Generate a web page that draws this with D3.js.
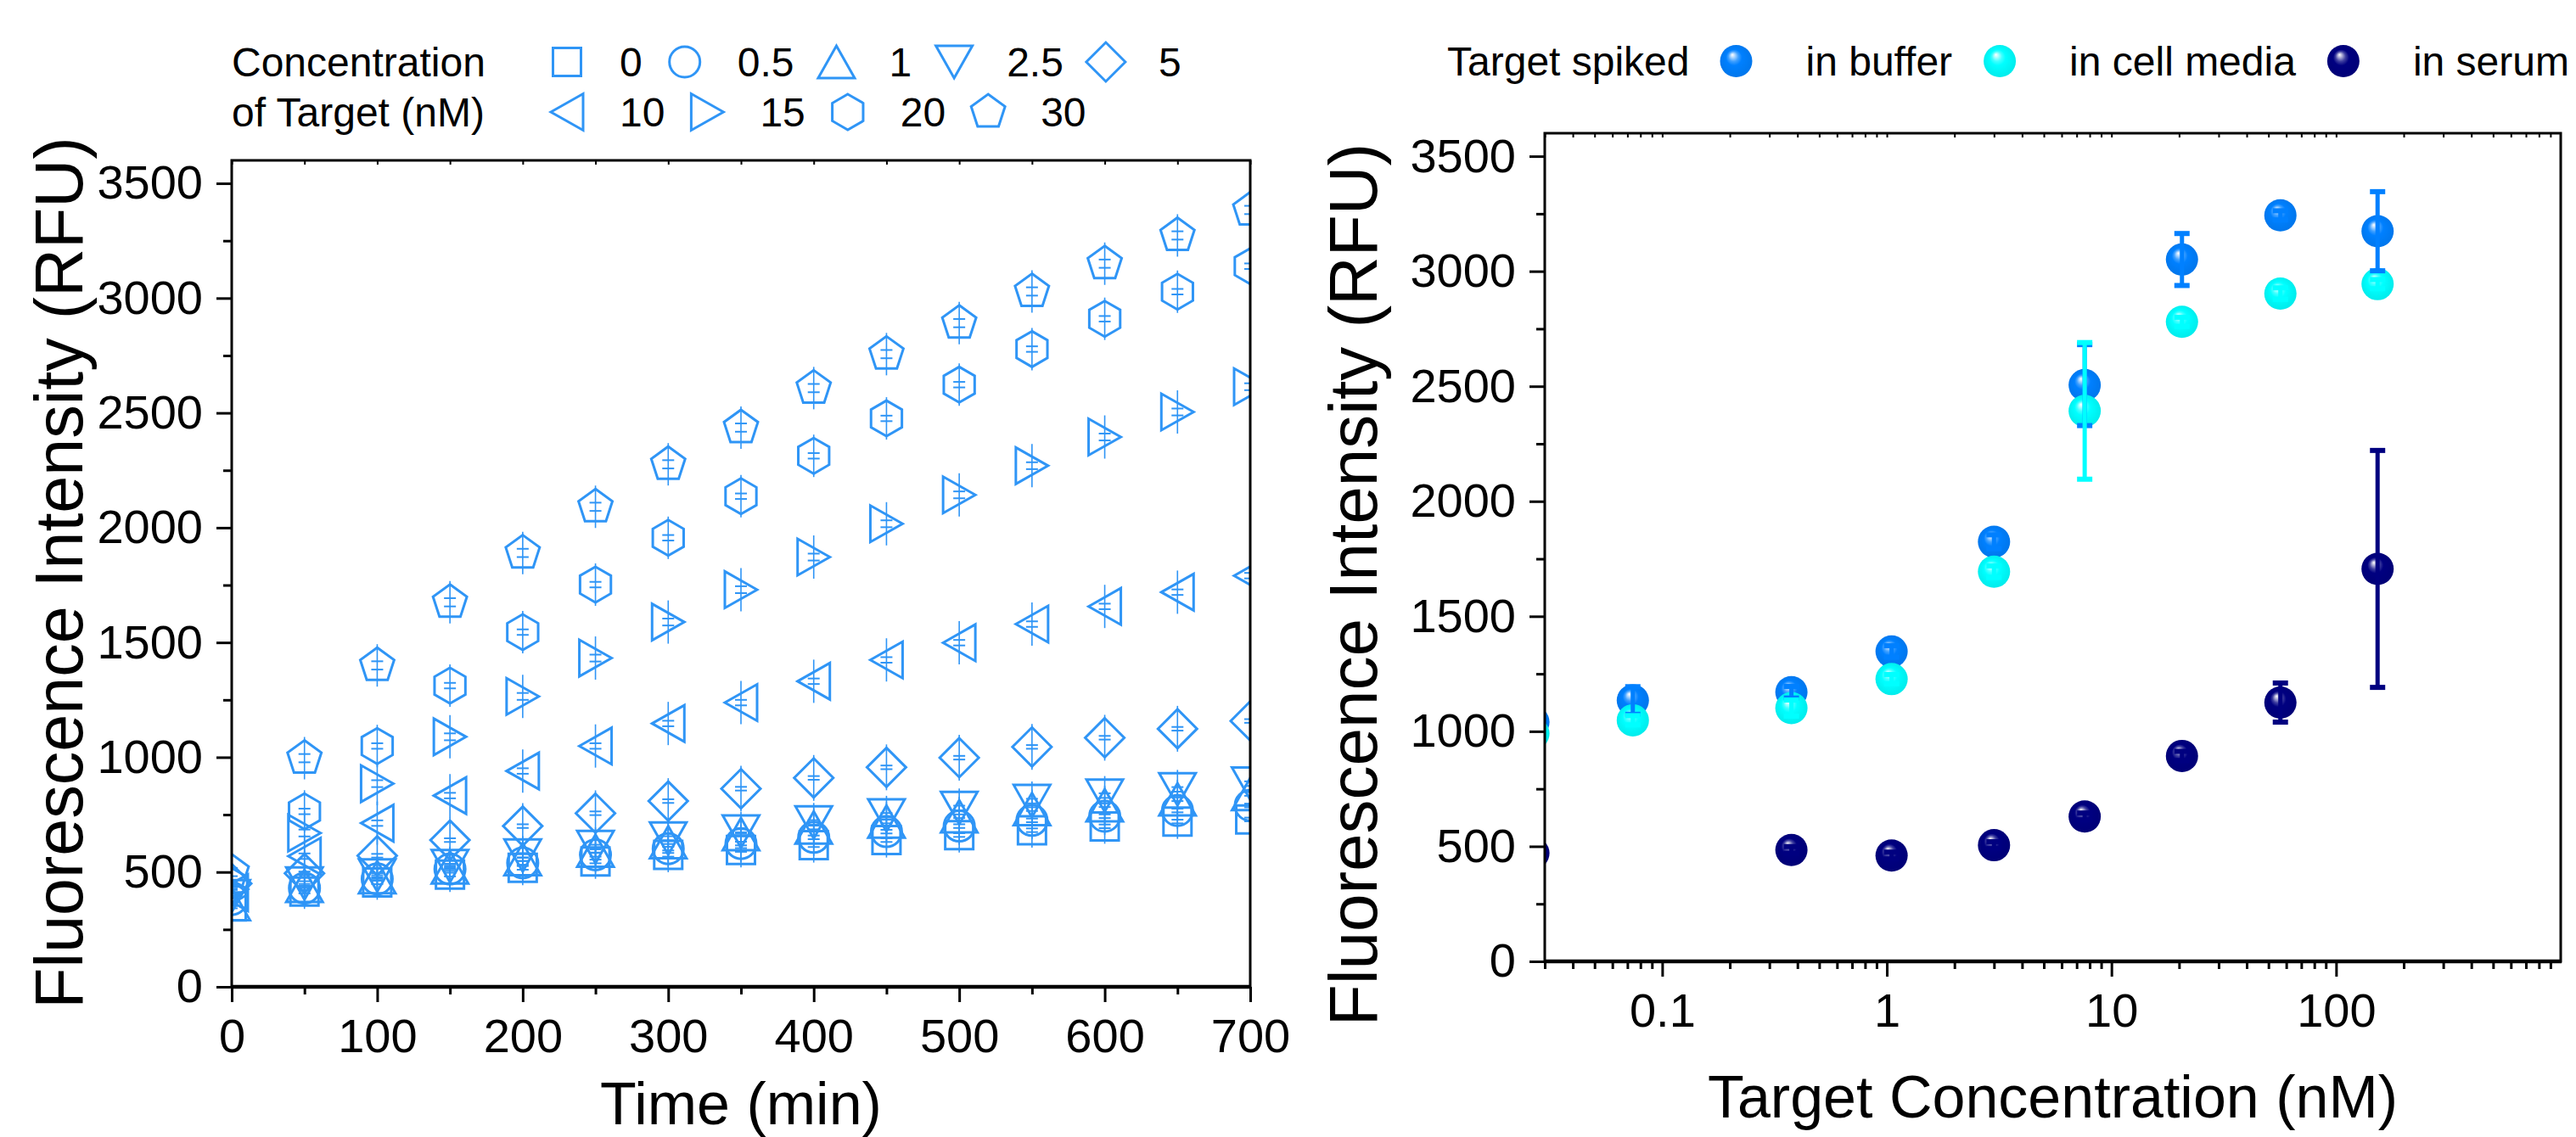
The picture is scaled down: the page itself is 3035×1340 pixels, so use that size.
<!DOCTYPE html>
<html><head><meta charset="utf-8">
<script src="https://cdn.jsdelivr.net/npm/d3@7"></script>
<style>body{margin:0;background:#fff}</style>
</head><body>
<svg id="c" width="3035" height="1340"></svg>
<script>
// ---------------- DATA ----------------
const times = [0,50,100,150,200,250,300,350,400,450,500,550,600,650,700];
const concLabels = ["0","0.5","1","2.5","5","10","15","20","30"];
const symbolTypes = ["square","circle","triUp","triDown","diamond","triLeft","triRight","hexagon","pentagon"];
const conc0   = [350,415,455,489,518,546,575,596,617,639,661,682,699,720,729];
const conc0_5 = [380,430,470,513,540,575,602,624,651,676,700,725,743,768,790];
const conc1   = [360,440,478,520,556,593,630,665,694,720,743,774,791,817,840];
const conc2_5 = [395,450,485,526,572,609,646,676,716,747,779,809,833,860,885];
const conc5   = [450,494,571,639,700,756,809,863,910,956,998,1045,1085,1124,1158];
const conc10  = [410,569,713,833,940,1049,1147,1238,1331,1424,1499,1580,1657,1719,1791];
const conc15  = [425,670,885,1089,1265,1432,1589,1730,1872,2017,2143,2270,2395,2504,2614];
const conc20  = [440,764,1049,1312,1545,1752,1956,2137,2313,2476,2623,2778,2910,3028,3139];
const conc30  = [500,996,1400,1675,1890,2091,2276,2436,2608,2756,2891,3029,3150,3273,3384];
const kineticSeries = [conc0,conc0_5,conc1,conc2_5,conc5,conc10,conc15,conc20,conc30];
const kineticSD = [8,8,8,10,8,12,15,12,18];

const timeTicks = [0,100,200,300,400,500,600,700];
const timeMinor = [50,150,250,350,450,550,650];
const rfuTicks = [0,500,1000,1500,2000,2500,3000,3500];
const rfuMinor = [250,750,1250,1750,2250,2750,3250];

const spikeConc = [0.0267,0.074,0.376,1.05,3.0,7.6,20.6,56.5,153];
const bufferMean = [1040,1134,1170,1347,1824,2505,3051,3243,3174];
const bufferErr  = [20,60,25,25,30,176,113,20,172];
const cellMean   = [990,1048,1101,1227,1694,2393,2780,2903,2944];
const cellErr    = [20,20,35,20,25,297,20,25,20];
const serumMean  = [470,null,484,460,505,630,893,1125,1706];
const serumErr   = [20,null,15,15,15,15,20,85,515];
const concTicks = [0.1,1,10,100];
const concTickLabels = ["0.1","1","10","100"];
const spikeLabels = ["in buffer","in cell media","in serum"];
const spikeColors = ["#0080ff","#00ffff","#000080"];

// ---------------- SETUP ----------------
const FONT = "'Liberation Sans', Arial, Helvetica, sans-serif";
const svg = d3.select("#c");
const symColor = "#2f95f6";
const L = {x0:273, x1:1473, y0:1163, y1:189};
const R = {x0:1820, x1:3017, y0:1133, y1:157};
const xL = d3.scaleLinear([0,700],[L.x0,L.x1]);
const yL = d3.scaleLinear([0,3600],[L.y0,L.y1]);
const xR = d3.scaleLog([0.03,1000],[R.x0,R.x1]);
const yR = d3.scaleLinear([0,3600],[R.y0,R.y1]);

const defs = svg.append("defs");
defs.append("clipPath").attr("id","clipL").append("rect")
  .attr("x",L.x0).attr("y",L.y1).attr("width",L.x1-L.x0).attr("height",L.y0-L.y1);
defs.append("clipPath").attr("id","clipR").append("rect")
  .attr("x",R.x0).attr("y",R.y1).attr("width",R.x1-R.x0).attr("height",R.y0-R.y1);
spikeColors.forEach((c,i)=>{
  const g = defs.append("radialGradient").attr("id","ball"+i)
    .attr("cx","50%").attr("cy","50%").attr("r","55%").attr("fx","38%").attr("fy","30%");
  g.append("stop").attr("offset","0%").attr("stop-color","#ffffff");
  g.append("stop").attr("offset","10%").attr("stop-color",d3.interpolateRgb(c,"#ffffff")(0.75));
  g.append("stop").attr("offset","28%").attr("stop-color",d3.interpolateRgb(c,"#ffffff")(0.25));
  g.append("stop").attr("offset","45%").attr("stop-color",c);
  g.append("stop").attr("offset","100%").attr("stop-color",d3.color(c).darker(0.25).formatHex());
});

function shape(t){
  switch(t){
    case "square": {const s=16.5; return `M${-s},${-s}H${s}V${s}H${-s}Z`;}
    case "circle": {const r=18; return `M${r},0A${r},${r} 0 1,1 ${-r},0A${r},${r} 0 1,1 ${r},0Z`;}
    case "triUp": return "M0,-19L21.5,19L-21.5,19Z";
    case "triDown": return "M0,19L21.5,-19L-21.5,-19Z";
    case "diamond": return "M0,-23L23,0L0,23L-23,0Z";
    case "triLeft": return "M-19,0L19,-21.5L19,21.5Z";
    case "triRight": return "M19,0L-19,-21.5L-19,21.5Z";
    case "hexagon": {const r=21; const p=d3.range(6).map(i=>{const a=Math.PI/3*i; return [r*Math.sin(a),-r*Math.cos(a)];}); return "M"+p.join("L")+"Z";}
    case "pentagon": {const r=21; const p=d3.range(5).map(i=>{const a=2*Math.PI/5*i; return [r*Math.sin(a),-r*Math.cos(a)];}); return "M"+p.join("L")+"Z";}
  }
}
const halfH = {square:16.5,circle:18,triUp:19,triDown:19,diamond:23,triLeft:21.5,triRight:21.5,hexagon:21,pentagon:21};

// ---------------- LEFT CHART ----------------
const gL = svg.append("g");
const plotL = gL.append("g").attr("clip-path","url(#clipL)");
kineticSeries.forEach((vals,si)=>{
  const t = symbolTypes[si];
  const g = plotL.append("g").attr("stroke",symColor).attr("fill","none");
  vals.forEach((v,i)=>{
    const cx = xL(times[i]), cy = yL(v);
    const h = halfH[t]+4;
    g.append("line").attr("x1",cx).attr("x2",cx).attr("y1",cy-h).attr("y2",cy+h).attr("stroke-width",1.6);
    const e = yL(v) - yL(v+kineticSD[si]);
    [cy-e, cy+e].forEach(yy=>g.append("line").attr("x1",cx-7).attr("x2",cx+7).attr("y1",yy).attr("y2",yy).attr("stroke-width",2));
    g.append("path").attr("d",shape(t)).attr("transform",`translate(${cx},${cy})`).attr("stroke-width",3);
  });
});

function styleAxis(g, fs){
  g.attr("font-size",fs).attr("font-family",FONT);
  g.select(".domain").remove();
  g.selectAll(".tick line").attr("stroke","#000").attr("stroke-width",3);
  g.selectAll(".tick text").attr("fill","#000");
}
gL.append("g").attr("transform",`translate(0,${L.y0})`)
  .call(d3.axisBottom(xL).tickValues(timeTicks).tickSize(18).tickPadding(19).tickFormat(d3.format("d")).tickSizeOuter(0))
  .call(g=>styleAxis(g,56));
gL.append("g").attr("transform",`translate(0,${L.y0})`)
  .call(d3.axisBottom(xL).tickValues(timeMinor).tickSize(9).tickFormat("").tickSizeOuter(0))
  .call(g=>styleAxis(g,56));
gL.append("g").attr("transform",`translate(${L.x0},0)`)
  .call(d3.axisLeft(yL).tickValues(rfuTicks).tickSize(18).tickPadding(16).tickFormat(d3.format("d")).tickSizeOuter(0))
  .call(g=>styleAxis(g,56));
gL.append("g").attr("transform",`translate(${L.x0},0)`)
  .call(d3.axisLeft(yL).tickValues(rfuMinor).tickSize(10).tickFormat("").tickSizeOuter(0))
  .call(g=>styleAxis(g,56));
gL.append("g").attr("transform",`translate(0,${L.y1})`)
  .call(d3.axisBottom(xL).tickValues(timeTicks.concat(timeMinor)).tickSize(5).tickFormat("").tickSizeOuter(0))
  .call(g=>{g.select(".domain").remove(); g.selectAll("line").attr("stroke","#000").attr("stroke-width",2);});
gL.append("rect").attr("x",L.x0).attr("y",L.y1).attr("width",L.x1-L.x0).attr("height",L.y0-L.y1)
  .attr("fill","none").attr("stroke","#000").attr("stroke-width",3);
gL.append("line").attr("x1",L.x0-1).attr("x2",L.x1+1).attr("y1",L.y0).attr("y2",L.y0).attr("stroke","#000").attr("stroke-width",4.5);

gL.append("text").attr("transform",`translate(97,675) rotate(-90)`)
  .attr("text-anchor","middle").attr("font-family",FONT).attr("font-size",79).text("Fluorescence Intensity (RFU)");
gL.append("text").attr("x",(L.x0+L.x1)/2).attr("y",1325)
  .attr("text-anchor","middle").attr("font-family",FONT).attr("font-size",70).text("Time (min)");

// left legend
const legL = svg.append("g").attr("font-family",FONT).attr("font-size",48);
legL.append("text").attr("x",273).attr("y",90).text("Concentration");
legL.append("text").attr("x",273).attr("y",149).text("of Target (nM)");
[[0,5,90],[5,9,149]].forEach(([a,b,base])=>{
  let x = 668;
  for(let i=a;i<b;i++){
    legL.append("path").attr("d",shape(symbolTypes[i])).attr("transform",`translate(${x},${base-17})`)
      .attr("fill","none").attr("stroke",symColor).attr("stroke-width",3);
    const tx = legL.append("text").attr("x",x+62).attr("y",base).text(concLabels[i]);
    const w = tx.node().getComputedTextLength();
    x = x + 62 + w + 50;
  }
});

// ---------------- RIGHT CHART ----------------
const gR = svg.append("g");
const plotR = gR.append("g").attr("clip-path","url(#clipR)");
const rSeries = [[bufferMean,bufferErr],[cellMean,cellErr],[serumMean,serumErr]];
rSeries.forEach(([m],si)=>{
  m.forEach((v,i)=>{
    if(v==null) return;
    plotR.append("circle").attr("cx",xR(spikeConc[i])).attr("cy",yR(v)).attr("r",19)
      .attr("fill",`url(#ball${si})`);
  });
});
rSeries.forEach(([m,e],si)=>{
  m.forEach((v,i)=>{
    if(v==null) return;
    const cx = xR(spikeConc[i]);
    const yt = yR(v+e[i]), yb = yR(v-e[i]);
    plotR.append("line").attr("x1",cx).attr("x2",cx).attr("y1",yt).attr("y2",yb)
      .attr("stroke",spikeColors[si]).attr("stroke-width",5);
    [yt,yb].forEach(yy=>plotR.append("line").attr("x1",cx-9).attr("x2",cx+9).attr("y1",yy).attr("y2",yy)
      .attr("stroke",spikeColors[si]).attr("stroke-width",6));
  });
});

const concMinor = [];
[0.01,0.1,1,10,100].forEach(d=>{ for(let k=2;k<=9;k++){ const v=+(k*d).toPrecision(3); if(v>=0.03 && v<=1000) concMinor.push(v);} });
gR.append("g").attr("transform",`translate(0,${R.y0})`)
  .call(d3.axisBottom(xR).tickValues(concTicks).tickSize(18).tickPadding(19).tickFormat((d,i)=>concTickLabels[i]).tickSizeOuter(0))
  .call(g=>styleAxis(g,56));
gR.append("g").attr("transform",`translate(0,${R.y0})`)
  .call(d3.axisBottom(xR).tickValues(concMinor).tickSize(9).tickFormat("").tickSizeOuter(0))
  .call(g=>styleAxis(g,56));
gR.append("g").attr("transform",`translate(${R.x0},0)`)
  .call(d3.axisLeft(yR).tickValues(rfuTicks).tickSize(18).tickPadding(16).tickFormat(d3.format("d")).tickSizeOuter(0))
  .call(g=>styleAxis(g,56));
gR.append("g").attr("transform",`translate(${R.x0},0)`)
  .call(d3.axisLeft(yR).tickValues(rfuMinor).tickSize(10).tickFormat("").tickSizeOuter(0))
  .call(g=>styleAxis(g,56));
gR.append("g").attr("transform",`translate(0,${R.y1})`)
  .call(d3.axisBottom(xR).tickValues(concTicks.concat(concMinor)).tickSize(5).tickFormat("").tickSizeOuter(0))
  .call(g=>{g.select(".domain").remove(); g.selectAll("line").attr("stroke","#000").attr("stroke-width",2);});
gR.append("rect").attr("x",R.x0).attr("y",R.y1).attr("width",R.x1-R.x0).attr("height",R.y0-R.y1)
  .attr("fill","none").attr("stroke","#000").attr("stroke-width",3);
gR.append("line").attr("x1",R.x0-1).attr("x2",R.x1+1).attr("y1",R.y0).attr("y2",R.y0).attr("stroke","#000").attr("stroke-width",4.5);

gR.append("text").attr("transform",`translate(1622,689) rotate(-90)`)
  .attr("text-anchor","middle").attr("font-family",FONT).attr("font-size",80).text("Fluorescence Intensity (RFU)");
gR.append("text").attr("x",(R.x0+R.x1)/2).attr("y",1317)
  .attr("text-anchor","middle").attr("font-family",FONT).attr("font-size",70).text("Target Concentration (nM)");

// right legend
const legR = svg.append("g").attr("font-family",FONT).attr("font-size",48);
const tTitle = legR.append("text").attr("x",1705).attr("y",89).text("Target spiked");
let lx = 1705 + tTitle.node().getComputedTextLength() + 55;
spikeLabels.forEach((lab,i)=>{
  legR.append("circle").attr("cx",lx).attr("cy",72).attr("r",19).attr("fill",`url(#ball${i})`);
  const t = legR.append("text").attr("x",lx+82).attr("y",89).text(lab);
  lx = lx + 82 + t.node().getComputedTextLength() + 56;
});
</script>
</body></html>
